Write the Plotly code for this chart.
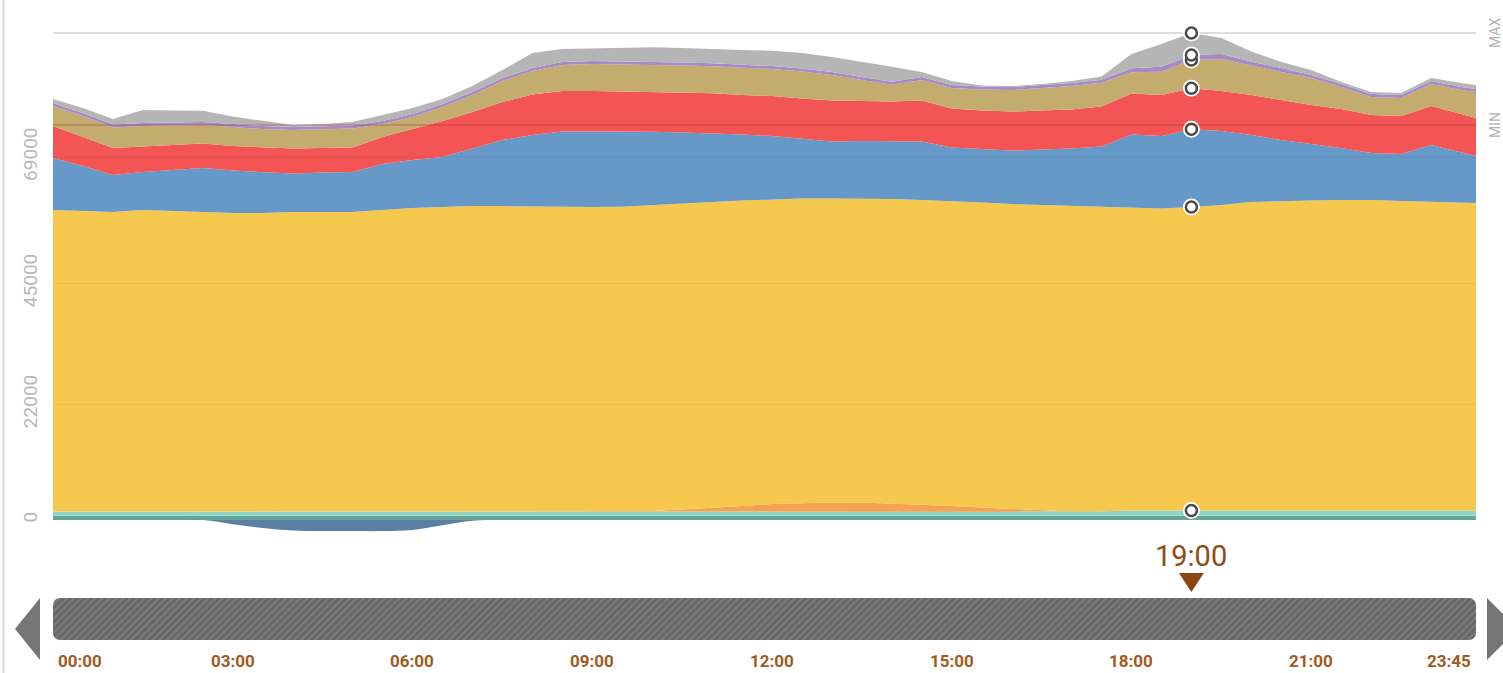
import plotly.graph_objects as go

# ---------------- data ----------------
times = ["00:00", "00:30", "01:00", "01:30", "02:00", "02:30", "03:00", "03:30",
         "04:00", "04:30", "05:00", "05:30", "06:00", "06:30", "07:00", "07:30",
         "08:00", "08:30", "09:00", "09:30", "10:00", "10:30", "11:00", "11:30",
         "12:00", "12:30", "13:00", "13:30", "14:00", "14:30", "15:00", "15:30",
         "16:00", "16:30", "17:00", "17:30", "18:00", "18:30", "19:00", "19:30",
         "20:00", "20:30", "21:00", "21:30", "22:00", "22:30", "23:00", "23:30", "23:45"]

teal_base = [800, 800, 800, 800, 800, 800, 800, 800, 800, 800, 800, 800, 800, 800, 800, 800,
             800, 800, 800, 800, 800, 800, 800, 800, 800, 800, 800, 800, 800, 800, 800, 800,
             800, 800, 800, 800, 800, 800, 800, 800, 800, 800, 800, 800, 800, 800, 800, 800, 800]
aqua = [800, 800, 800, 800, 800, 800, 800, 800, 800, 800, 800, 800, 800, 800, 800, 800,
        800, 800, 800, 800, 800, 800, 800, 800, 800, 800, 800, 800, 800, 800, 800, 800,
        800, 800, 800, 850, 1000, 1000, 1000, 1000, 1000, 1000, 1000, 1000, 1000, 1000, 1000, 1000, 1000]
orange = [0, 0, 0, 0, 0, 0, 0, 0, 0, 0, 0, 0, 0, 0, 0, 0,
          0, 0, 0, 0, 100, 380, 670, 1050, 1430, 1620, 1710, 1710, 1520, 1240, 1050, 760,
          480, 190, 0, 0, 0, 0, 0, 0, 0, 0, 0, 0, 0, 0, 0, 0, 0]
yellow = [57315, 57125, 56935, 57315, 57125, 56935, 56745, 56745, 56935, 56935,
          56935, 57315, 57695, 57885, 58075, 58075, 57980, 57885, 57885, 57940,
          58170, 58265, 58170, 58075, 57885, 57885, 57830, 57790, 57885, 57980,
          57980, 57980, 57980, 58075, 58075, 57885, 57505, 57410, 57695, 58075,
          58645, 58835, 58930, 59025, 59025, 58835, 58645, 58550, 58455]
blue = [9885, 8555, 7034, 7224, 7794, 8364, 8079, 7794, 7319, 7509,
        7604, 8745, 9125, 9505, 10931, 12547, 13592, 14353, 14353, 14296,
        13934, 13402, 13060, 12547, 12071, 11311, 10798, 10931, 10931, 11121,
        10170, 10170, 10170, 10551, 10931, 11463, 13972, 13782, 14771, 14067,
        12737, 11596, 10741, 9885, 8935, 8935, 10836, 9600, 8935]
red = [6083, 5513, 5133, 4848, 4753, 4657, 4657, 4753, 4790, 4657,
       4695, 5133, 5893, 6844, 6939, 7224, 7699, 7699, 7699, 7604,
       7604, 7604, 7604, 7509, 7604, 7699, 7794, 7604, 7604, 7794,
       7414, 7319, 7414, 7414, 7452, 7604, 7794, 7794, 7794, 7604,
       7604, 7604, 7414, 7414, 7224, 7224, 7414, 7224, 7224]
tan = [3802, 3992, 3897, 3897, 3707, 3517, 3612, 3422, 3479, 3517,
       3574, 2471, 2281, 2661, 3232, 3992, 4467, 4943, 5133, 5133,
       5133, 5133, 5133, 5133, 5133, 5133, 4848, 3992, 3194, 3897,
       3897, 3992, 4087, 4277, 4429, 4505, 4030, 4429, 5380, 6083,
       5570, 5323, 5133, 4182, 3422, 3422, 4182, 4562, 4943]
purple = [570, 570, 570, 570, 570, 570, 570, 570, 570, 570,
          570, 570, 570, 570, 570, 570, 570, 570, 570, 570,
          570, 570, 570, 570, 570, 570, 570, 570, 570, 570,
          570, 570, 570, 570, 570, 570, 760, 950, 950, 950,
          760, 760, 570, 570, 570, 570, 570, 570, 570]
grey = [760, 950, 1046, 2471, 2281, 2148, 1426, 950, 380, 475,
        665, 1141, 1141, 950, 1141, 1521, 2852, 2471, 2376, 2661,
        2737, 2756, 2661, 2852, 2908, 2946, 2852, 2946, 2852, 950,
        760, 190, 190, 190, 380, 627, 2718, 4315, 4182, 3042,
        1939, 1141, 950, 380, 380, 380, 570, 760, 760]
pumping = [0, 0, 0, 0, 0, 0, -800, -1500, -2000, -2100,
           -2100, -2100, -1900, -1000, -150, 0, 0, 0, 0, 0,
           0, 0, 0, 0, 0, 0, 0, 0, 0, 0,
           0, 0, 0, 0, 0, 0, 0, 0, 0, 0,
           0, 0, 0, 0, 0, 0, 0, 0, 0]

y_ticks = [0, 22000, 45000, 69000]
time_labels = ["00:00", "03:00", "06:00", "09:00", "12:00", "15:00", "18:00", "21:00", "23:45"]
selected_time = "19:00"

# ---------------- helpers ----------------
def to_h(t):
    hh, mm = t.split(":")
    return int(hh) + int(mm) / 60.0

x = [to_h(t) for t in times]
x_end = x[-1]

# pixel layout helpers (figure 1503 x 673, margins l=53 r=27 t=20 b=5)
W, H = 1503, 673
ML, MR, MT, MB = 53, 27, 20, 5
PW = W - ML - MR
PH = H - MT - MB


def px_x(p):
    return (p - ML) / PW


def px_y(p):
    return (H - MB - p) / PH


main_dom = [px_y(540), 1.0]
bar_dom = [px_y(640), px_y(598)]

series = [
    ("Base", teal_base, "#66a597"),
    ("Aqua", aqua, "#90d6c7"),
    ("Solar", orange, "#f5a152"),
    ("Yellow", yellow, "#f6c94e"),
    ("Blue", blue, "#6699c7"),
    ("Red", red, "#f35454"),
    ("Tan", tan, "#c4ab6e"),
    ("Purple", purple, "#a68bc6"),
    ("Grey", grey, "#b5b5b5"),
]

fig = go.Figure()
for name, vals, col in series:
    fig.add_trace(go.Scatter(
        x=x, y=vals, name=name, mode="lines", stackgroup="gen",
        line=dict(width=0, color=col), fillcolor=col, hoverinfo="skip",
    ))

fig.add_trace(go.Scatter(
    x=x, y=pumping, name="Pumping", mode="lines", fill="tozeroy",
    line=dict(width=0, color="#5b7fa4", shape="spline"), fillcolor="#5b7fa4", hoverinfo="skip",
))

# totals for MAX/MIN
totals = [sum(s[1][i] for s in series) for i in range(len(x))]
t_max = max(totals)
t_min = min(totals)

# markers at selected time
i_sel = times.index(selected_time)
cum = []
acc = 0
for name, vals, col in series:
    acc += vals[i_sel]
    cum.append(acc)
marker_levels = [cum[2], cum[3], cum[4], cum[5], cum[6], cum[7], cum[8]]
h_sel = to_h(selected_time)
fig.add_trace(go.Scatter(
    x=[h_sel] * len(marker_levels), y=marker_levels, mode="markers",
    marker=dict(size=17, color="white", line=dict(width=0)), hoverinfo="skip", cliponaxis=False,
))
fig.add_trace(go.Scatter(
    x=[h_sel] * len(marker_levels), y=marker_levels, mode="markers",
    marker=dict(size=11, color="white", line=dict(width=2.5, color="#4a4a4a")),
    hoverinfo="skip", cliponaxis=False,
))

# scrollbar (two overlapping halves, each with a rounded end)
for v, b in ((1.0, -0.5), (-1.0, 0.5)):
    fig.add_trace(go.Bar(
        x=[0.5], y=[v - b], base=b, width=[1.0], xaxis="x2", yaxis="y2",
        marker=dict(
            color="#6a6a6a", cornerradius=7, line=dict(width=0),
            pattern=dict(shape="/", fgcolor="#8f8f8f", bgcolor="#666666", size=5, solidity=0.45),
        ),
        hoverinfo="skip",
    ))

shapes = []
# gridlines above fills
for tv in y_ticks[1:]:
    shapes.append(dict(type="line", xref="paper", yref="y", x0=0, x1=1, y0=tv, y1=tv,
                       line=dict(color="rgba(0,0,0,0.06)", width=1), layer="above"))
# MAX / MIN lines
shapes.append(dict(type="line", xref="paper", yref="y", x0=0, x1=1, y0=t_max, y1=t_max,
                   line=dict(color="#d3d3d3", width=1.5), layer="below"))
shapes.append(dict(type="line", xref="paper", yref="y", x0=0, x1=1, y0=t_min, y1=t_min,
                   line=dict(color="rgba(150,40,30,0.3)", width=1.5), layer="above"))
# left border
shapes.append(dict(type="line", xref="paper", yref="paper", x0=px_x(3.5), x1=px_x(3.5),
                   y0=px_y(H), y1=px_y(0), line=dict(color="#d9d9d9", width=2)))
# scrollbar arrows
shapes.append(dict(type="path", xref="paper", yref="paper",
                   path=f"M {px_x(15)} {px_y(629)} L {px_x(40)} {px_y(598)} L {px_x(40)} {px_y(660)} Z",
                   fillcolor="#757575", line=dict(width=0)))
shapes.append(dict(type="path", xref="paper", yref="paper",
                   path=f"M {px_x(1518)} {px_y(629)} L {px_x(1487)} {px_y(598)} L {px_x(1487)} {px_y(660)} Z",
                   fillcolor="#757575", line=dict(width=0)))
# selected time triangle
hw = 12.5 / (PW / x_end)
shapes.append(dict(type="path", xref="x", yref="paper",
                   path=f"M {h_sel - hw} {px_y(573)} L {h_sel + hw} {px_y(573)} L {h_sel} {px_y(592)} Z",
                   fillcolor="#8b4510", line=dict(width=0)))

annotations = []
for lab, txt in (("MAX", t_max), ("MIN", t_min)):
    annotations.append(dict(x=px_x(1495), y=txt, xref="paper", yref="y", text=lab,
                            textangle=-90, showarrow=False, xanchor="center", yanchor="middle",
                            font=dict(family="Roboto", size=14, color="#b3b3b3")))
annotations.append(dict(x=h_sel, y=px_y(556), xref="x", yref="paper", text=selected_time,
                        xanchor="center", yanchor="middle", showarrow=False,
                        font=dict(family="Roboto", size=29, color="#8e4b14")))
for lab in time_labels:
    hx = to_h(lab)
    anchor = "center"
    shift = 0
    if lab == time_labels[0]:
        anchor, shift = "left", 3
    elif lab == time_labels[-1]:
        anchor, shift = "right", -3
    annotations.append(dict(x=hx, y=px_y(661), xref="x", yref="paper", text=f"<b>{lab}</b>",
                            xanchor=anchor, yanchor="middle", xshift=shift, showarrow=False,
                            font=dict(family="Roboto", size=17, color="#a05a1e")))

fig.update_layout(
    width=W, height=H,
    margin=dict(l=ML, r=MR, t=MT, b=MB, autoexpand=False),
    paper_bgcolor="white", plot_bgcolor="white",
    showlegend=False, hovermode=False, barmode="overlay",
    xaxis=dict(range=[0, x_end], visible=False, domain=[0, 1], anchor="y"),
    yaxis=dict(domain=main_dom, range=[-3800, 95050], tickvals=y_ticks,
               ticktext=[str(v) for v in y_ticks], tickangle=-90, showgrid=False,
               zeroline=False, showline=False, ticks="", ticklabelstandoff=11, automargin=False,
               tickfont=dict(family="Roboto", size=19, color="#b8b8b8")),
    xaxis2=dict(range=[0, 1], visible=False, domain=[0, 1], anchor="y2"),
    yaxis2=dict(range=[-1, 1], visible=False, domain=bar_dom, anchor="x2"),
    shapes=shapes, annotations=annotations,
)

fig.write_html(
    "out.html",
    config={"displayModeBar": False},
    post_script="document.body.style.margin='0px';document.body.style.overflow='hidden';",
)
